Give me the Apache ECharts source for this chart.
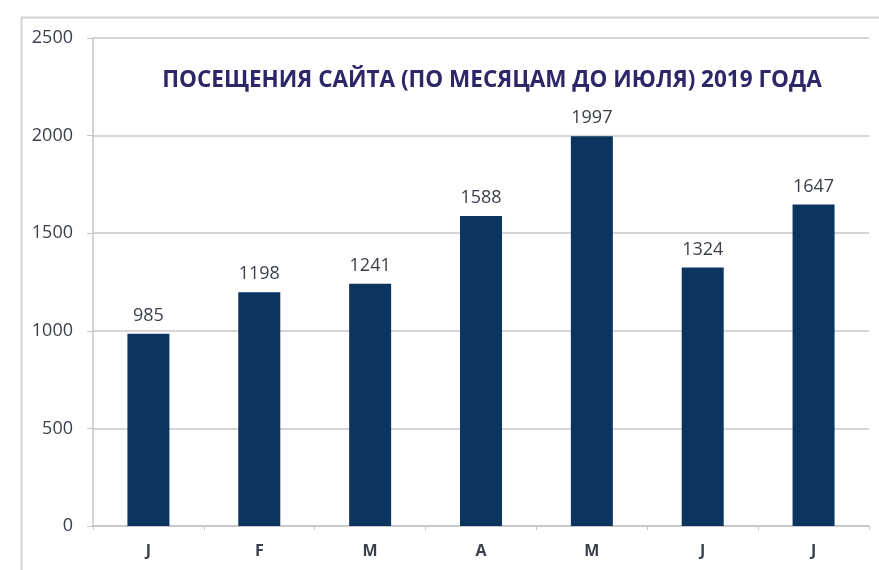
<!DOCTYPE html>
<html><head><meta charset="utf-8">
<script src="https://cdn.jsdelivr.net/npm/echarts@6/dist/echarts.min.js"></script>
<style>html,body{margin:0;padding:0;background:#fff}#c{width:879px;height:570px}</style>
</head><body><div id="c"></div>
<script>
const titleText = 'ПОСЕЩЕНИЯ САЙТА (ПО МЕСЯЦАМ ДО ИЮЛЯ) 2019 ГОДА';
const categories = ['J', 'F', 'M', 'A', 'M', 'J', 'J'];
const visits = [985, 1198, 1241, 1588, 1997, 1324, 1647];
const yTicks = [0, 500, 1000, 1500, 2000, 2500];

const chart = echarts.init(document.getElementById('c'), null, {renderer: 'canvas'});
chart.setOption({
  animation: false,
  backgroundColor: '#ffffff',
  graphic: [{
    type: 'rect', left: 19, top: 15, silent: true, z: -1,
    shape: {width: 900, height: 600},
    style: {fill: 'none', stroke: '#d4d4d4', lineWidth: 2}
  }],
  title: {
    text: titleText, left: 487, top: 64, textAlign: 'center',
    textStyle: {fontFamily: 'Open Sans', fontWeight: 'bold', fontSize: 22.5, color: '#2d2768'}
  },
  grid: {left: 93, right: 10, top: 38, bottom: 44, containLabel: false},
  xAxis: {
    type: 'category', data: categories,
    axisLine: {lineStyle: {color: '#c4c4c4', width: 1.5}},
    axisTick: {show: true, alignWithLabel: false, length: 4, lineStyle: {color: '#c4c4c4'}},
    axisLabel: {color: '#3a3f4a', fontSize: 16, fontFamily: 'Open Sans', fontWeight: 'bold', margin: 17}
  },
  yAxis: {
    type: 'value', min: yTicks[0], max: yTicks[yTicks.length - 1], interval: 500,
    axisLine: {show: true, lineStyle: {color: '#c4c4c4', width: 1.5}},
    axisTick: {show: true, length: 6, lineStyle: {color: '#c4c4c4'}},
    axisLabel: {color: '#3a3f4a', fontSize: 18, fontFamily: 'Open Sans', margin: 20, formatter: v => String(v)},
    splitLine: {lineStyle: {color: '#c8c8c8', width: 1.5}}
  },
  series: [{
    type: 'bar', data: visits, barWidth: 42,
    itemStyle: {color: '#0b355e'},
    label: {show: true, position: 'top', distance: 9, color: '#3a3f4a', fontSize: 18, fontFamily: 'Open Sans'}
  }]
});
</script></body></html>
